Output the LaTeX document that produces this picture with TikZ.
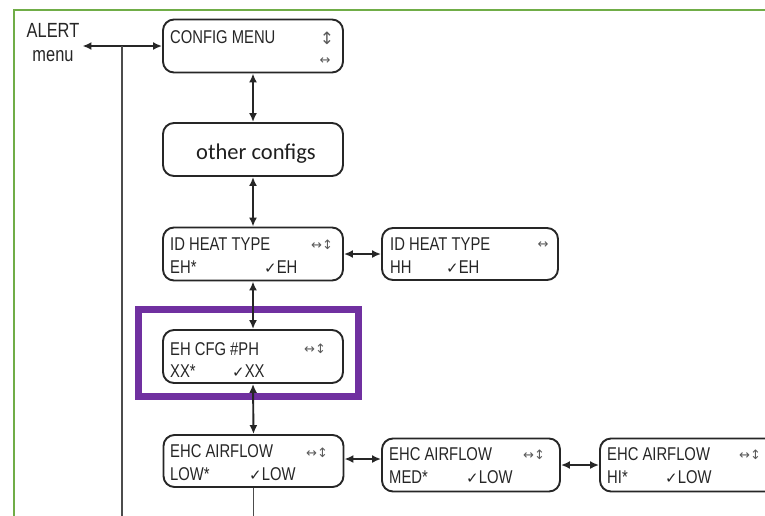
\documentclass[tikz,border=0pt]{standalone}
\usepackage{fontspec}
\setmainfont{Liberation Sans}
\newfontfamily\lcdfont[FakeStretch=0.8]{Liberation Sans}
\newfontfamily\symfont{DejaVu Sans}
\newfontfamily\calfont{Carlito}
\usetikzlibrary{arrows.meta}

\definecolor{framegreen}{HTML}{70AD47}
\definecolor{markpurple}{HTML}{7030A0}
\definecolor{lcdgray}{HTML}{262626}

\newcommand{\chk}{{\symfont\fontsize{15}{15}\selectfont ✓}}

\tikzset{
  menubox/.style={draw=lcdgray, line width=1.9pt, rounded corners=11pt,
    minimum width=180pt, minimum height=53pt, inner sep=0pt},
  lcd/.style={font=\lcdfont\fontsize{18.5}{19}\selectfont, text=lcdgray,
    inner sep=0pt, anchor=base west},
  keys/.style={font=\symfont\fontsize{13}{13}\selectfont, text=gray!70!black, inner sep=0pt},
  link/.style={line width=1.9pt, draw=lcdgray, {Latex[length=9pt,width=8pt]}-{Latex[length=9pt,width=8pt]}},
  wire/.style={line width=1.4pt, draw=gray!60!black}
}

\begin{document}
\begin{tikzpicture}[x=1pt, y=-1pt]
    \useasboundingbox (0,0) rectangle (765,515);
    \clip (0,0) rectangle (765,515);

    \draw[framegreen, line width=2.5pt] (14,530) -- (14,10) -- (780,10);

    % menu boxes
    \node[menubox] (cfg) at (253,46) {};
    \node[menubox] (oth) at (253,149.5) {};
    \node[menubox] (iht1) at (253,254) {};
    \node[menubox, minimum width=176pt, minimum height=52pt] (iht2) at (470,254) {};
    \node[menubox] (ehc) at (253,356.5) {};
    \node[menubox, minimum height=52pt] (air1) at (253.5,461) {};
    \node[menubox, minimum width=178pt] (air2) at (471,465) {};
    \node[menubox, minimum width=180pt] (air3) at (690,465) {};

    \draw[markpurple, line width=7pt] (138,309) rectangle (358,396);

    % texts
    \node[font=\lcdfont\fontsize{20.5}{24}\selectfont, text=lcdgray, align=center, inner sep=3pt] (alert) at (53,43) {ALERT\\menu};

    \node[lcd] (cfg-a) at (170,43) {CONFIG MENU};
    \node[keys, font=\symfont\fontsize{17}{17}\selectfont] (cfg-b) at (327,38) {↕};
    \node[keys] (cfg-c) at (325,61) {↔};

    \node[font=\calfont\fontsize{22.5}{24}\selectfont, text=black!88, anchor=base, inner sep=0pt] (oth-a) at (256,159) {other configs};

    \node[lcd] (iht1-a) at (170,250) {ID HEAT TYPE};
    \node[keys] (iht1-b) at (322,245) {↔↕};
    \node[lcd] (iht1-c) at (170,273) {EH*};
    \node[lcd] (iht1-d) at (264,273) {\chk EH};

    \node[lcd] (iht2-a) at (390,250) {ID HEAT TYPE};
    \node[keys] (iht2-b) at (543,245) {↔};
    \node[lcd] (iht2-c) at (390,273) {HH};
    \node[lcd] (iht2-d) at (446,273) {\chk EH};

    \node[lcd] (ehc-a) at (170,355) {EH CFG \#PH};
    \node[keys] (ehc-b) at (315,349) {↔↕};
    \node[lcd] (ehc-c) at (170,377) {XX*};
    \node[lcd] (ehc-d) at (232,377) {\chk XX};

    \node[lcd] (air1-a) at (170,457) {EHC AIRFLOW};
    \node[keys] (air1-b) at (317,453) {↔↕};
    \node[lcd] (air1-c) at (170,480) {LOW*};
    \node[lcd] (air1-d) at (249,480) {\chk LOW};

    \node[lcd] (air2-a) at (389,460) {EHC AIRFLOW};
    \node[keys] (air2-b) at (534,455) {↔↕};
    \node[lcd] (air2-c) at (389,483) {MED*};
    \node[lcd] (air2-d) at (466,483) {\chk LOW};

    \node[lcd] (air3-a) at (607,460) {EHC AIRFLOW};
    \node[keys] (air3-b) at (750,455) {↔↕};
    \node[lcd] (air3-c) at (607,483) {HI*};
    \node[lcd] (air3-d) at (665,483) {\chk LOW};

    % connectors
    \draw[link] (alert.east |- cfg.west) -- (cfg.west);
    \coordinate (tap) at (122,46);
    \coordinate (tapend) at (122,520);
    \draw[wire] (tap) -- (tapend);

    \draw[link] (cfg.south) -- (oth.north);
    \draw[link] (oth.south) -- (iht1.north);
    \draw[link] (iht1.south) -- (ehc.north);
    \draw[link] (ehc.south) -- (air1.north);
    \draw[wire] (air1.south) -- (air1.south |- tapend);

    \draw[link] (iht1.east) -- (iht1.east -| iht2.west);
    \draw[link] ([yshift=2pt]air1.east) -- ([yshift=2pt]air1.east -| air2.west);
    \draw[link] (air2.east) -- (air2.east -| air3.west);
\end{tikzpicture}
\end{document}
